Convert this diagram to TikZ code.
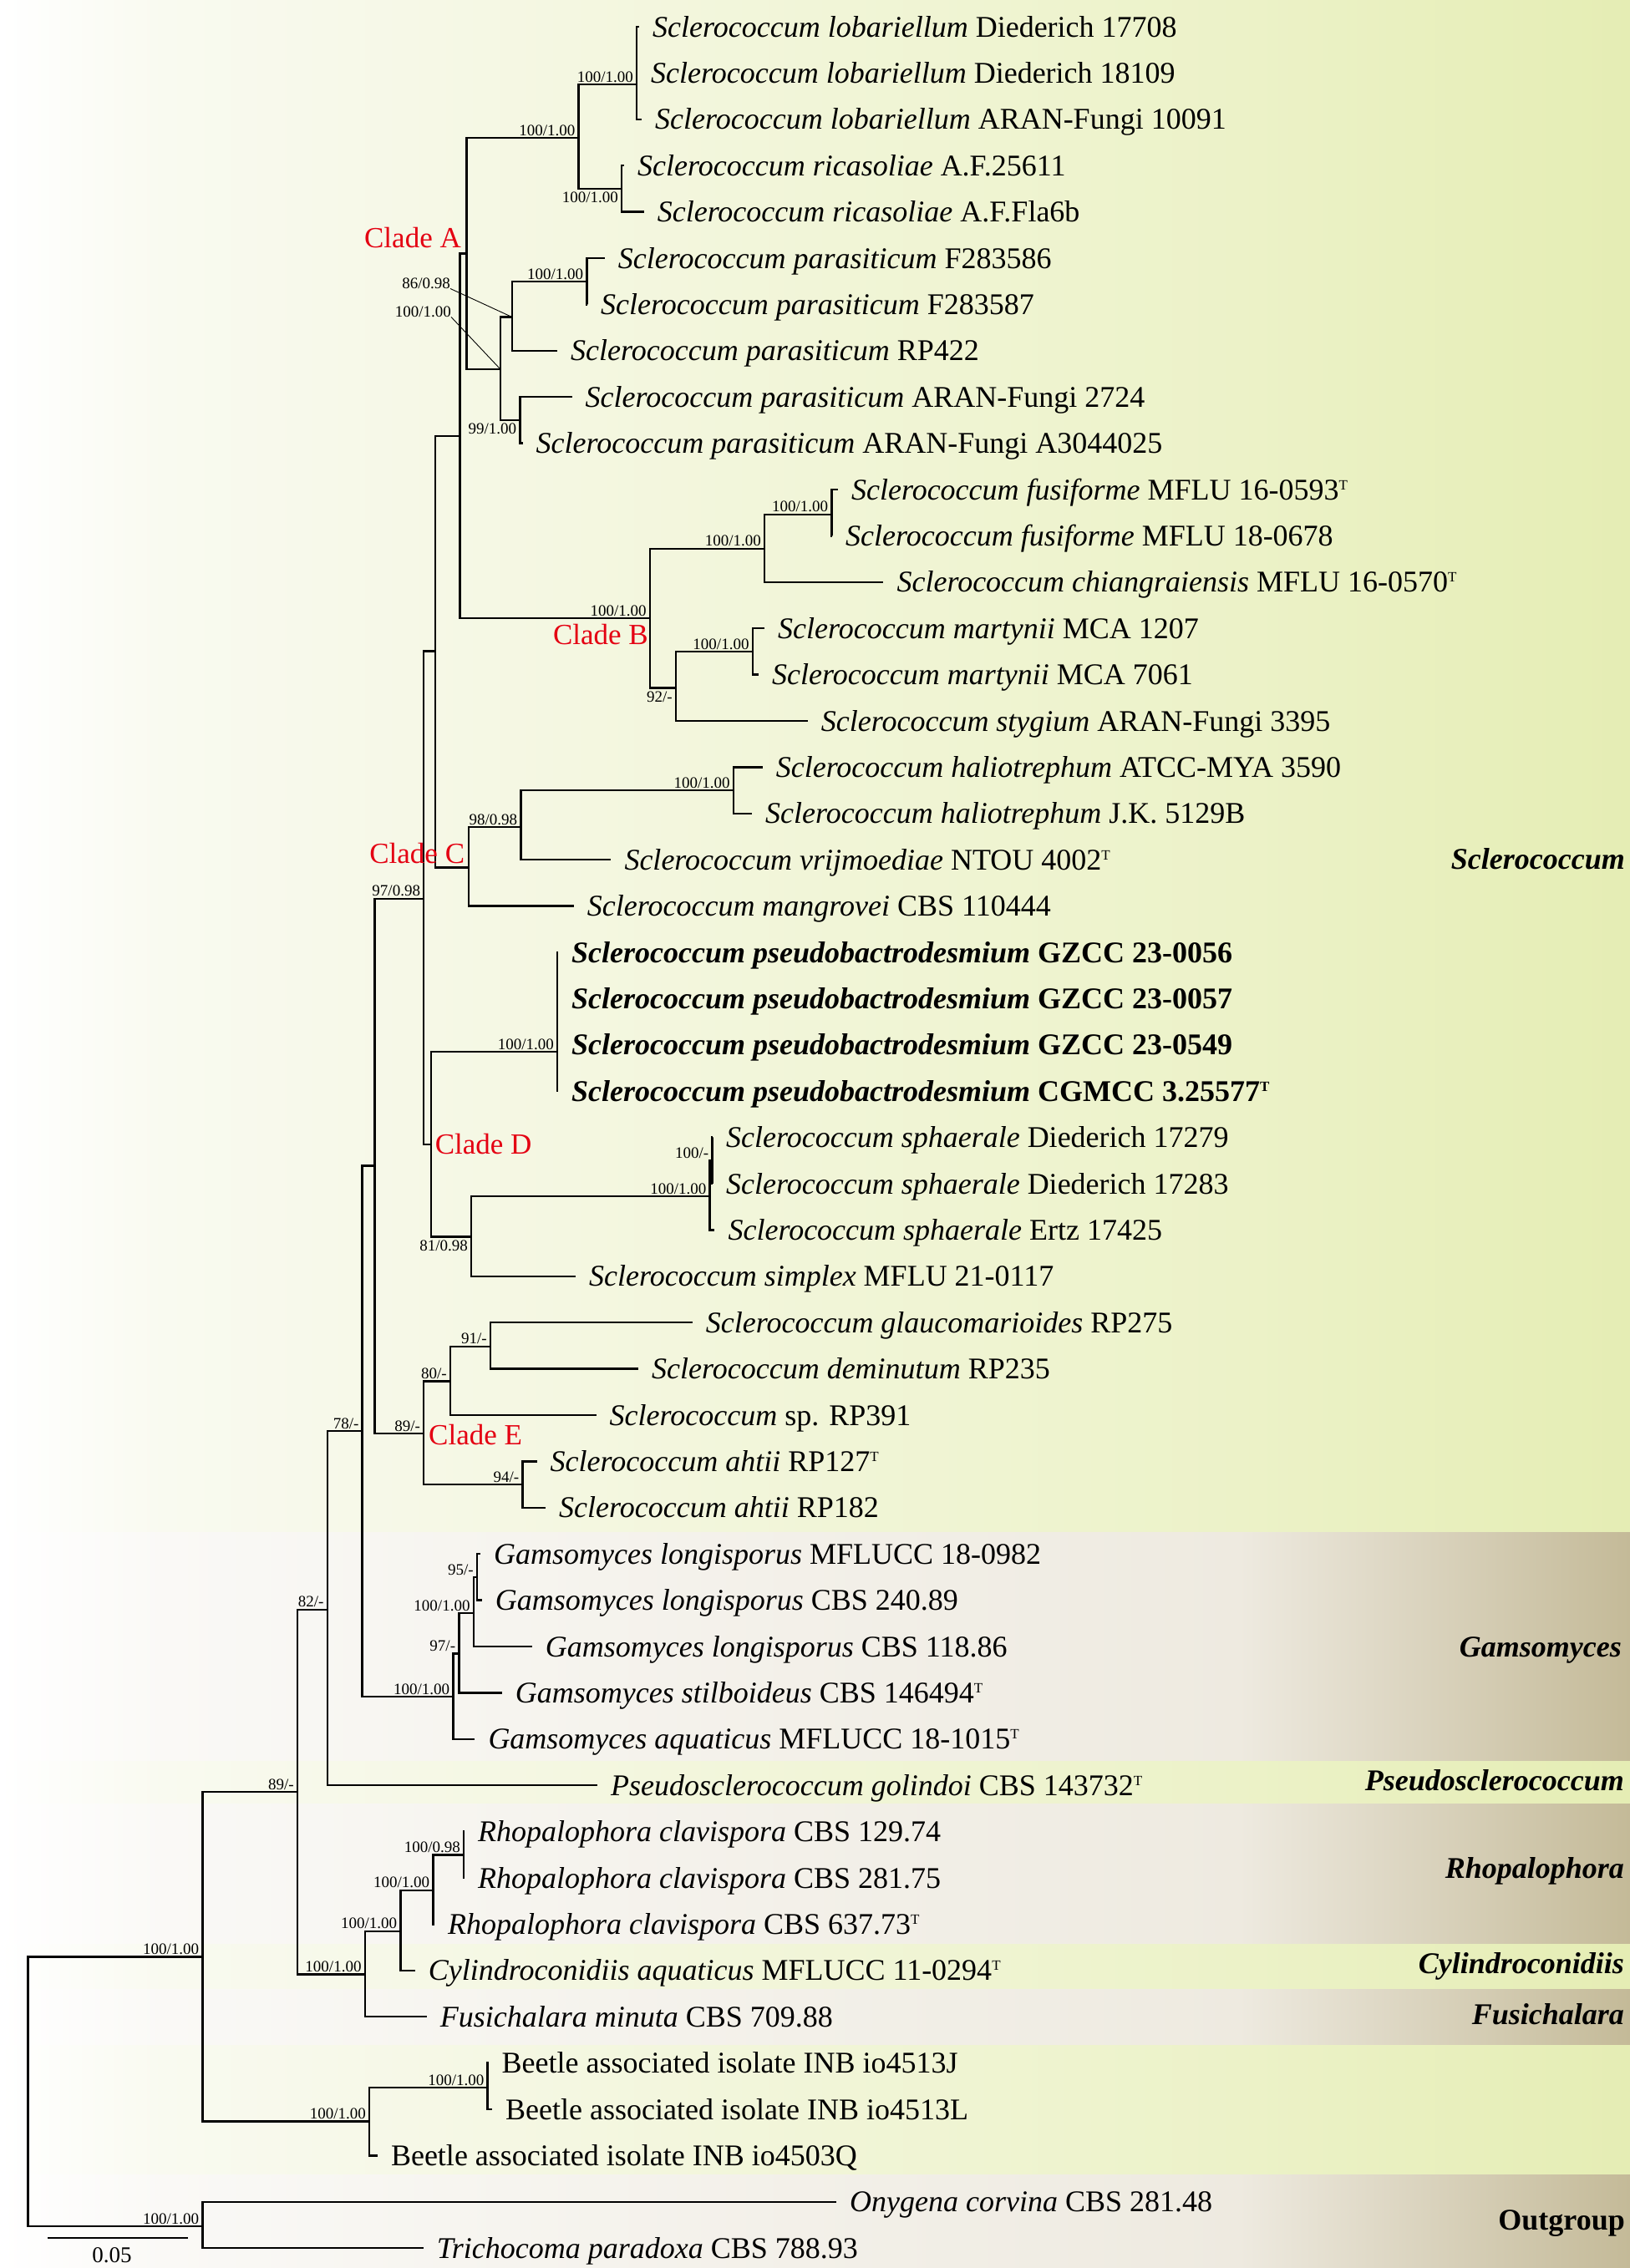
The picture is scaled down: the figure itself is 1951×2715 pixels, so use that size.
\documentclass[tikz,border=0pt]{standalone}
\usepackage{fontspec}
\setmainfont{Liberation Serif}
\usepackage{tikz}
\definecolor{gA}{RGB}{249,250,240}
\definecolor{gB}{RGB}{236,242,200}
\definecolor{gC}{RGB}{229,237,180}
\definecolor{tA}{RGB}{250,249,246}
\definecolor{tB}{RGB}{238,234,224}
\definecolor{tC}{RGB}{196,186,152}
\definecolor{cladered}{RGB}{228,0,18}
\pgfdeclarehorizontalshading{greenband}{100bp}{color(0bp)=(white); color(25bp)=(white); color(30bp)=(gA); color(63bp)=(gB); color(75bp)=(gC); color(100bp)=(gC)}
\pgfdeclarehorizontalshading{tanband}{100bp}{color(0bp)=(white); color(25bp)=(white); color(30bp)=(tA); color(63bp)=(tB); color(75bp)=(tC); color(100bp)=(tC)}
\newcommand{\taxfont}{\fontsize{36}{40}\selectfont}
\newcommand{\bsfont}{\fontsize{19}{21}\selectfont}
\newcommand{\cladefont}{\fontsize{35}{38}\selectfont}
\newcommand{\grpfont}{\fontsize{36}{40}\selectfont\bfseries}
\newcommand{\ry}[1]{32+55.4*#1}
\newcommand{\taxon}[4]{\node[taxon] (#1) at (#2,{\ry{#3}}) {#4};}
\newcommand{\Sc}{Sclerococcum}
\newcommand{\typ}{\raisebox{12pt}{\fontsize{17}{19}\selectfont T}}
\tikzset{
  taxon/.style={anchor=west, inner xsep=16pt, inner ysep=0pt, text height=24pt, text depth=0pt, font=\taxfont},
  br/.style={draw=black, line width=2.4pt, line join=miter},
  lead/.style={draw=black, line width=0.9pt},
  bs/.style={anchor=base east, inner sep=0pt, font=\bsfont},
  bsb/.style={anchor=north east, inner sep=0pt, font=\bsfont},
  clade/.style={inner sep=0pt, text=cladered, font=\cladefont},
  grp/.style={anchor=base east, inner sep=0pt, font=\grpfont}
}
\begin{document}
\begin{tikzpicture}[x=1pt, y=-1pt]
  \useasboundingbox (0,0) rectangle (1951,2715);
  \fill[white] (0,0) rectangle (1951,2715);
  % bands
  \foreach \sh/\ya/\yb in {greenband/0/1834.6, tanband/1834.6/2108.3, greenband/2108.3/2159,
      tanband/2159/2327.4, greenband/2327.4/2381.6, tanband/2381.6/2448,
      greenband/2448/2603.3, tanband/2603.3/2715}
    \shade[shading=\sh] (0,\ya) rectangle (1951,\yb);

  % taxa
  \taxon{t0}{765}{0}{\textit{\Sc\ lobariellum} Diederich 17708}
  \taxon{t1}{763}{1}{\textit{\Sc\ lobariellum} Diederich 18109}
  \taxon{t2}{768}{2}{\textit{\Sc\ lobariellum} ARAN-Fungi 10091}
  \taxon{t3}{747}{3}{\textit{\Sc\ ricasoliae} A.F.25611}
  \taxon{t4}{770.6}{4}{\textit{\Sc\ ricasoliae} A.F.Fla6b}
  \taxon{t5}{723.75}{5}{\textit{\Sc\ parasiticum} F283586}
  \taxon{t6}{703}{6}{\textit{\Sc\ parasiticum} F283587}
  \taxon{t7}{667}{7}{\textit{\Sc\ parasiticum} RP422}
  \taxon{t8}{684.5}{8}{\textit{\Sc\ parasiticum} ARAN-Fungi 2724}
  \taxon{t9}{625.5}{9}{\textit{\Sc\ parasiticum} ARAN-Fungi A3044025}
  \taxon{t10}{1002.9}{10}{\textit{\Sc\ fusiforme} MFLU 16-0593\typ}
  \taxon{t11}{996}{11}{\textit{\Sc\ fusiforme} MFLU 18-0678}
  \taxon{t12}{1057.4}{12}{\textit{\Sc\ chiangraiensis} MFLU 16-0570\typ}
  \taxon{t13}{915}{13}{\textit{\Sc\ martynii} MCA 1207}
  \taxon{t14}{908}{14}{\textit{\Sc\ martynii} MCA 7061}
  \taxon{t15}{966.7}{15}{\textit{\Sc\ stygium} ARAN-Fungi 3395}
  \taxon{t16}{912.6}{16}{\textit{\Sc\ haliotrephum} ATCC-MYA 3590}
  \taxon{t17}{900}{17}{\textit{\Sc\ haliotrephum} J.K. 5129B}
  \taxon{t18}{731.3}{18}{\textit{\Sc\ vrijmoediae} NTOU 4002\typ}
  \taxon{t19}{686.7}{19}{\textit{\Sc\ mangrovei} CBS 110444}
  \taxon{t20}{668}{20}{\textbf{\textit{\Sc\ pseudobactrodesmium} GZCC 23-0056}}
  \taxon{t21}{668}{21}{\textbf{\textit{\Sc\ pseudobactrodesmium} GZCC 23-0057}}
  \taxon{t22}{668}{22}{\textbf{\textit{\Sc\ pseudobactrodesmium} GZCC 23-0549}}
  \taxon{t23}{668}{23}{\textbf{\textit{\Sc\ pseudobactrodesmium} CGMCC 3.25577\typ}}
  \taxon{t24}{853}{24}{\textit{\Sc\ sphaerale} Diederich 17279}
  \taxon{t25}{853}{25}{\textit{\Sc\ sphaerale} Diederich 17283}
  \taxon{t26}{855.4}{26}{\textit{\Sc\ sphaerale} Ertz 17425}
  \taxon{t27}{689}{27}{\textit{\Sc\ simplex} MFLU 21-0117}
  \taxon{t28}{828.7}{28}{\textit{\Sc\ glaucomarioides} RP275}
  \taxon{t29}{764}{29}{\textit{\Sc\ deminutum} RP235}
  \taxon{t30}{713.5}{30}{\textit{\Sc} sp. RP391}
  \taxon{t31}{642.5}{31}{\textit{\Sc\ ahtii} RP127\typ}
  \taxon{t32}{653}{32}{\textit{\Sc\ ahtii} RP182}
  \taxon{t33}{575}{33}{\textit{Gamsomyces longisporus} MFLUCC 18-0982}
  \taxon{t34}{576.7}{34}{\textit{Gamsomyces longisporus} CBS 240.89}
  \taxon{t35}{636.7}{35}{\textit{Gamsomyces longisporus} CBS 118.86}
  \taxon{t36}{600.7}{36}{\textit{Gamsomyces stilboideus} CBS 146494\typ}
  \taxon{t37}{568.3}{37}{\textit{Gamsomyces aquaticus} MFLUCC 18-1015\typ}
  \taxon{t38}{715}{38}{\textit{Pseudosclerococcum golindoi} CBS 143732\typ}
  \taxon{t39}{556}{39}{\textit{Rhopalophora clavispora} CBS 129.74}
  \taxon{t40}{556}{40}{\textit{Rhopalophora clavispora} CBS 281.75}
  \taxon{t41}{520}{41}{\textit{Rhopalophora clavispora} CBS 637.73\typ}
  \taxon{t42}{496.7}{42}{\textit{Cylindroconidiis aquaticus} MFLUCC 11-0294\typ}
  \taxon{t43}{510.7}{43}{\textit{Fusichalara minuta} CBS 709.88}
  \taxon{t44}{584.5}{44}{Beetle associated isolate INB io4513J}
  \taxon{t45}{589}{45}{Beetle associated isolate INB io4513L}
  \taxon{t46}{451.8}{46}{Beetle associated isolate INB io4503Q}
  \taxon{t47}{1001}{47}{\textit{Onygena corvina} CBS 281.48}
  \taxon{t48}{506.7}{48}{\textit{Trichocoma paradoxa} CBS 788.93}

  % internal nodes
  \coordinate (lobin) at (762,59.7);
  \coordinate (lob) at (762,101.2);
  \coordinate (ric) at (744,226);
  \coordinate (A1) at (692.5,165);
  \coordinate (par56) at (702.3,337);
  \coordinate (par567) at (613,379.6);
  \coordinate (par89) at (622.4,503);
  \coordinate (parAll) at (598.75,441.8);
  \coordinate (cladeA) at (558.6,303.6);
  \coordinate (fus) at (995.4,615.7);
  \coordinate (fusch) at (915,656.7);
  \coordinate (mar) at (900.7,780);
  \coordinate (marst) at (808.8,823.3);
  \coordinate (cladeB) at (777.8,740);
  \coordinate (AB) at (550.5,522);
  \coordinate (hal) at (877.8,946.1);
  \coordinate (halvr) at (623.3,990);
  \coordinate (cladeC) at (560.8,1038.3);
  \coordinate (ABC) at (521,779.3);
  \coordinate (pse) at (667,1259);
  \coordinate (sphin) at (852.3,1389.3);
  \coordinate (sph) at (849.6,1432);
  \coordinate (sphsim) at (564,1480.4);
  \coordinate (cladeD) at (516,1370);
  \coordinate (ABCD) at (507.2,1075.7);
  \coordinate (gd) at (587,1611.8);
  \coordinate (gds) at (539,1653.6);
  \coordinate (aht) at (625.5,1777);
  \coordinate (cladeE) at (507.2,1716);
  \coordinate (scl) at (448.3,1395.4);
  \coordinate (glo) at (571,1888);
  \coordinate (glo3) at (566.7,1931);
  \coordinate (gst) at (549.3,1979.3);
  \coordinate (gam) at (542.3,2031);
  \coordinate (sg) at (433.6,1713);
  \coordinate (sgp) at (391.7,1926.7);
  \coordinate (rho2) at (555,2220.3);
  \coordinate (rho) at (518.3,2262.7);
  \coordinate (rhocy) at (479.3,2311.7);
  \coordinate (rcf) at (436.7,2363.3);
  \coordinate (main) at (356,2145);
  \coordinate (beein) at (583.5,2499);
  \coordinate (bee) at (442,2539.3);
  \coordinate (ing) at (242.4,2342.3);
  \coordinate (out) at (242.4,2665);
  \coordinate (root) at (33.5,2503.7);

  % branches
  \foreach \p/\c in {lobin/t0, lobin/t1, lob/lobin, lob/t2, ric/t3, ric/t4, A1/lob, A1/ric,
      par56/t5, par56/t6, par567/par56, par567/t7, par89/t8, par89/t9,
      parAll/par567, parAll/par89, cladeA/A1, cladeA/parAll,
      fus/t10, fus/t11, fusch/fus, fusch/t12, mar/t13, mar/t14, marst/mar, marst/t15,
      cladeB/fusch, cladeB/marst, AB/cladeA, AB/cladeB,
      hal/t16, hal/t17, halvr/hal, halvr/t18, cladeC/halvr, cladeC/t19, ABC/AB, ABC/cladeC,
      pse/t20, pse/t21, pse/t22, pse/t23, sphin/t24, sphin/t25, sph/sphin, sph/t26,
      sphsim/sph, sphsim/t27, cladeD/pse, cladeD/sphsim, ABCD/ABC, ABCD/cladeD,
      gd/t28, gd/t29, gds/gd, gds/t30, aht/t31, aht/t32, cladeE/gds, cladeE/aht,
      scl/ABCD, scl/cladeE,
      glo/t33, glo/t34, glo3/glo, glo3/t35, gst/glo3, gst/t36, gam/gst, gam/t37,
      sg/scl, sg/gam, sgp/sg, sgp/t38,
      rho2/t39, rho2/t40, rho/rho2, rho/t41, rhocy/rho, rhocy/t42, rcf/rhocy, rcf/t43,
      main/sgp, main/rcf, beein/t44, beein/t45, bee/beein, bee/t46,
      ing/main, ing/bee, out/t47, out/t48, root/ing, root/out}
    \draw[br] (\p) |- (\c.west);

  % support values
  \foreach \n/\v in {lob/{100/1.00}, A1/{100/1.00}, par56/{100/1.00}, cladeB/{100/1.00},
      fusch/{100/1.00}, fus/{100/1.00}, mar/{100/1.00}, hal/{100/1.00}, halvr/{98/0.98},
      ABCD/{97/0.98}, pse/{100/1.00}, sphin/{100/-}, sph/{100/1.00}, gd/{91/-}, gds/{80/-},
      aht/{94/-}, cladeE/{89/-}, sg/{78/-}, sgp/{82/-}, main/{89/-}, glo/{95/-},
      glo3/{100/1.00}, gst/{97/-}, gam/{100/1.00}, rho2/{100/0.98}, rho/{100/1.00},
      rhocy/{100/1.00}, rcf/{100/1.00}, bee/{100/1.00}, beein/{100/1.00},
      ing/{100/1.00}, out/{100/1.00}}
    \node[bs] (s-\n) at ([shift={(-4,-3)}]\n) {\v};
  \foreach \n/\v in {ric/{100/1.00}, par89/{99/1.00}, marst/{92/-}, sphsim/{81/0.98}}
    \node[bsb] (s-\n) at ([shift={(-4,4)}]\n) {\v};
  \node[bs] (s-par567) at (539,345.5) {86/0.98};
  \node[bs] (s-parAll) at (540,379.5) {100/1.00};
  \draw[lead] (s-par567.base east) -- (par567);
  \draw[lead] (s-parAll.base east) -- (parAll);

  % clades
  \node[clade, anchor=base east] (cA) at (552,296.4) {Clade A};
  \node[clade, anchor=base east] (cB) at (776,771.7) {Clade B};
  \node[clade, anchor=base east] (cC) at (556.3,1033.3) {Clade C};
  \node[clade, anchor=base west] (cD) at (520.6,1381.4) {Clade D};
  \node[clade, anchor=base west] (cE) at (513,1729.6) {Clade E};

  % genera
  \node[grp] (gScl) at (1945,1040.7) {\textit{Sclerococcum}};
  \node[grp] (gGam) at (1941,1983) {\textit{Gamsomyces}};
  \node[grp] (gPse) at (1944,2143) {\textit{Pseudosclerococcum}};
  \node[grp] (gRho) at (1944,2248) {\textit{Rhopalophora}};
  \node[grp] (gCyl) at (1944,2362) {\textit{Cylindroconidiis}};
  \node[grp] (gFus) at (1944,2423) {\textit{Fusichalara}};
  \node[grp] (gOut) at (1945,2669) {Outgroup};

  % scale bar
  \coordinate (sbA) at (57,2679);
  \coordinate (sbB) at (225.4,2679);
  \draw[br] (sbA) -- (sbB);
  \node[anchor=base, inner sep=0pt, font=\fontsize{27}{30}\selectfont] (sbl) at (134,2708) {0.05};
\end{tikzpicture}
\end{document}
